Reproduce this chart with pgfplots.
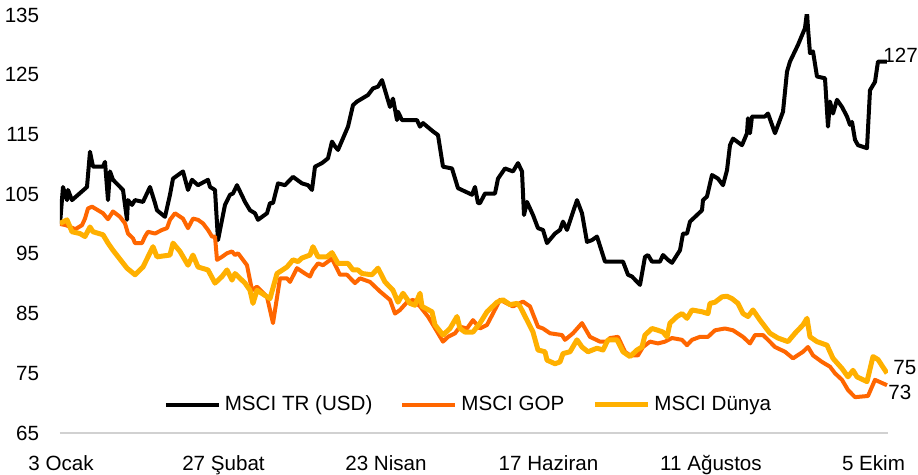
\documentclass[border=0pt]{standalone}
\usepackage{fontspec}
\setmainfont{Liberation Sans}
\usepackage{pgfplots}
\pgfplotsset{compat=1.18}

\definecolor{trBlack}{HTML}{000000}
\definecolor{gopOrange}{HTML}{FF6600}
\definecolor{dunyaYellow}{HTML}{FFB000}

% x = position along the date axis (ticks every 40 trading days)
\begin{document}
\begin{tikzpicture}
  \useasboundingbox (-30pt,-21pt) rectangle (429pt,216.5pt);
  \begin{axis}[
    scale only axis,
    width=414pt, height=209pt,
    xmin=60, xmax=888,
    ymin=65, ymax=135,
    ytick={65,75,85,95,105,115,125,135},
    xtick={61,223.5,386,548.5,711,873.5},
    xticklabels={3 Ocak,27 Şubat,23 Nisan,17 Haziran,11 Ağustos,5 Ekim},
    axis line style={draw=none},
    major tick length=0pt,
    /pgf/number format/assume math mode=true,
    tick label style={font=\fontsize{10.3}{12}\selectfont, text=black},
    yticklabel style={xshift=-6.9pt},
    xticklabel style={text height=7.5pt, text depth=2pt, yshift=-7.6pt},
    clip mode=individual,
    legend style={
      at={(rel axis cs:0.4946,0.067)}, anchor=center,
      draw=none, fill=none,
      legend columns=-1,
      font=\fontsize{10.3}{12}\selectfont,
      /tikz/every even column/.append style={column sep=12pt}
    },
    legend image code/.code={\draw[#1] (0pt,0pt) -- (26.5pt,0pt);},
    every axis plot/.append style={line join=round}
  ]
    \addplot[trBlack, line width=2pt] coordinates {
      (60,100.0) (63,106.2) (67,104.0) (68,105.7) (72,104.0) (87,106.2)
      (90,112.1) (93,109.6) (103,109.6) (105,110.4) (108,104.0) (110,108.8)
      (113,107.4) (123,105.7) (127,100.7) (128,104.0) (132,103.2) (135,104.0)
      (143,103.7) (150,106.2) (155,103.5) (157,102.3) (165,101.2) (170,104.9)
      (173,107.6) (183,108.8) (188,105.7) (192,107.4) (198,106.5) (208,107.4)
      (210,106.2) (215,105.7) (218,97.3) (225,103.2) (230,104.9) (233,105.1)
      (237,106.5) (245,103.7) (250,102.3) (255,101.8) (258,100.7) (267,101.8)
      (270,103.5) (273,103.5) (278,106.8) (285,106.5) (293,107.9) (302,106.8)
      (308,106.5) (312,105.7) (315,109.6) (322,110.2) (328,111.0) (332,113.8)
      (335,113.0) (338,112.4) (348,116.3) (353,119.9) (357,120.5) (368,121.6)
      (373,122.7) (378,123.0) (382,124.1) (390,119.6) (393,121.0) (397,117.4)
      (398,118.8) (402,117.4) (417,117.4) (420,116.3) (423,116.9) (433,115.5)
      (438,114.9) (443,109.6) (452,109.3) (458,106.0) (472,104.9) (475,106.2)
      (478,103.5) (480,103.5) (485,105.1) (495,105.1) (498,107.6) (505,109.3)
      (513,108.8) (518,110.2) (522,108.8) (524,101.5) (527,103.7) (533,101.5)
      (538,99.3) (543,99.0) (547,96.8) (555,98.4) (560,99.0) (563,100.4)
      (567,99.0) (577,104.0) (582,101.8) (587,97.0) (592,97.3) (597,97.9)
      (605,93.7) (620,93.7) (623,93.7) (628,91.5) (632,91.2) (640,89.8)
      (645,94.5) (648,94.8) (652,93.7) (660,93.7) (663,94.8) (668,94.0)
      (672,93.5) (680,95.6) (683,98.4) (687,98.4) (690,100.4) (697,101.5)
      (702,102.3) (703,104.0) (707,104.6) (712,108.2) (718,107.6) (723,106.5)
      (727,109.0) (730,113.2) (733,114.3) (742,113.2) (747,115.2) (748,117.7)
      (750,115.2) (752,118.0) (755,118.0) (765,118.0) (768,118.5) (775,115.2)
      (783,118.8) (787,125.5) (790,127.2) (798,130.0) (805,132.8) (807,135.5)
      (808,132.8) (810,128.6) (813,128.9) (817,124.7) (825,124.4) (828,116.3)
      (830,120.5) (833,118.5) (837,120.8) (842,119.6) (847,118.0) (850,116.6)
      (852,117.1) (855,114.1) (858,113.2) (867,112.7) (870,122.4) (875,123.8)
      (878,127.2) (887,127.2)
    };
    \addlegendentry{MSCI TR (USD)}

    \addplot[gopOrange, line width=2pt] coordinates {
      (60,100.0) (66,99.8) (73,99.3) (75,99.1) (82,99.8) (85,100.9)
      (88,102.6) (92,102.9) (98,102.3) (103,101.8) (108,100.8) (113,102.1)
      (120,101.2) (125,100.1) (128,98.4) (133,97.6) (135,96.8) (142,96.8)
      (145,97.9) (148,98.7) (155,98.4) (162,99.0) (167,99.3) (170,100.7)
      (175,101.8) (183,100.9) (188,99.3) (193,100.9) (198,100.7) (203,100.1)
      (208,99.0) (212,97.9) (215,97.9) (217,94.0) (222,94.5) (227,95.1)
      (232,95.4) (235,94.8) (238,95.1) (247,93.1) (252,88.9) (257,89.5)
      (267,87.8) (273,83.4) (280,90.9) (287,90.9) (290,90.3) (297,92.6)
      (305,91.7) (310,91.2) (313,92.3) (318,93.4) (323,93.1) (332,94.2)
      (340,91.5) (347,91.5) (355,90.1) (360,90.9) (370,90.3) (380,88.7)
      (390,87.3) (395,85.0) (400,85.6) (407,86.9) (413,87.3) (420,86.2)
      (428,84.5) (437,82.0) (443,80.3) (448,81.1) (455,81.7) (460,82.8)
      (467,82.5) (473,83.9) (480,82.5) (487,83.1) (492,84.7) (500,87.3)
      (507,86.7) (513,86.2) (523,87.0) (530,86.2) (538,82.8) (543,82.5)
      (550,81.7) (562,81.4) (565,80.6) (573,81.7) (582,83.4) (590,81.1)
      (600,80.3) (607,80.3) (610,80.9) (618,81.1) (625,78.6) (630,78.0)
      (638,78.0) (643,79.4) (650,80.3) (658,80.0) (665,80.3) (672,80.9)
      (682,80.6) (687,79.7) (692,80.6) (700,81.1) (708,81.1) (715,82.2)
      (725,82.5) (733,82.2) (743,81.1) (750,80.0) (755,81.4) (763,81.4)
      (768,80.6) (775,79.4) (785,78.6) (793,77.5) (803,78.6) (808,79.4)
      (813,78.0) (822,76.9) (830,76.1) (835,75.0) (842,73.9) (848,72.2)
      (855,71.0) (868,71.2) (875,73.9) (887,73.0)
    };
    \addlegendentry{MSCI GOP}

    \addplot[dunyaYellow, line width=2.5pt] coordinates {
      (60,100.1) (67,100.7) (72,98.7) (80,98.4) (85,97.9) (90,99.5)
      (93,98.7) (103,98.2) (108,96.8) (113,95.6) (127,92.6) (135,91.5)
      (143,92.8) (148,94.5) (153,96.2) (157,94.5) (170,94.8) (173,96.8)
      (180,95.4) (188,93.1) (193,94.8) (198,92.8) (208,92.3) (215,90.1)
      (222,91.2) (227,92.3) (232,90.6) (235,91.7) (245,90.1) (250,88.9)
      (253,86.7) (257,88.9) (270,87.5) (277,91.7) (287,92.8) (293,94.0)
      (298,93.7) (302,94.3) (310,94.8) (313,96.2) (318,94.5) (327,94.5)
      (332,95.2) (338,93.4) (348,93.4) (353,92.3) (358,92.3) (362,91.7)
      (372,91.5) (378,92.6) (385,90.3) (393,88.9) (398,86.9) (403,88.4)
      (410,86.7) (415,86.4) (420,88.4) (422,86.2) (432,85.3) (435,83.1)
      (443,81.4) (450,82.5) (457,84.5) (460,82.5) (465,81.9) (473,81.9)
      (480,83.4) (487,85.3) (497,86.9) (503,87.3) (510,86.5) (517,86.7)
      (520,86.2) (527,83.9) (533,81.9) (538,78.9) (545,78.6) (547,77.2)
      (555,76.6) (560,76.9) (563,78.3) (570,78.6) (577,80.6) (582,79.4)
      (588,78.6) (597,79.2) (603,78.9) (608,80.6) (617,80.6) (623,78.6)
      (630,77.8) (637,78.9) (642,79.4) (645,81.4) (652,82.5) (658,82.2)
      (663,81.9) (667,81.1) (670,83.4) (677,84.5) (682,85.0) (687,84.2)
      (692,85.6) (702,85.3) (708,85.0) (710,86.7) (715,86.9) (722,87.8)
      (727,87.9) (732,87.5) (738,86.7) (743,85.0) (748,84.5) (753,85.6)
      (760,83.9) (770,81.7) (778,80.9) (788,80.3) (795,81.7) (803,83.1)
      (807,84.2) (810,81.1) (817,80.3) (827,79.7) (833,77.5) (842,75.8)
      (848,74.4) (853,75.5) (857,74.4) (867,73.6) (873,77.8) (878,77.3)
      (887,75.0)
    };
    \addlegendentry{MSCI Dünya}

    \node[anchor=west, inner sep=0pt, font=\fontsize{10.3}{12}\selectfont]
      at (axis cs:883,128.3) {127};
    \node[anchor=west, inner sep=0pt, font=\fontsize{10.3}{12}\selectfont]
      at (axis cs:893,76.0) {75};
    \node[anchor=west, inner sep=0pt, font=\fontsize{10.3}{12}\selectfont]
      at (axis cs:888,71.8) {73};
  \end{axis}
  % light base line at 65
  \draw[black!18, line width=1.2pt] (0pt,0pt) -- (414pt,0pt);
\end{tikzpicture}
\end{document}
